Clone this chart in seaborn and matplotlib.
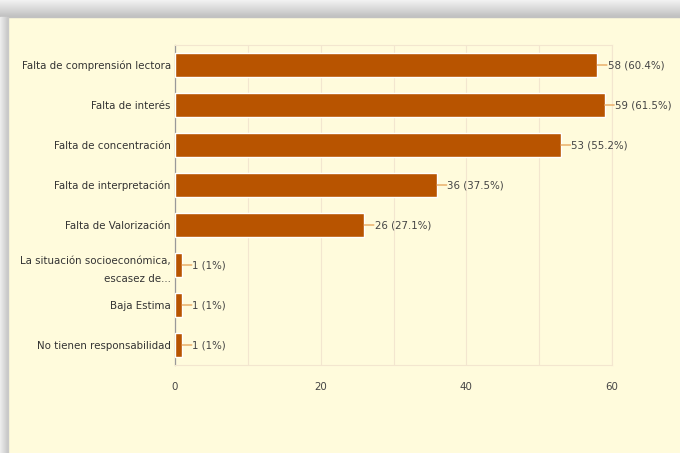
import matplotlib
matplotlib.use("Agg")
import matplotlib.pyplot as plt
from matplotlib.patches import Rectangle
from matplotlib import font_manager
import seaborn as sns
import pandas as pd

categories = [
    "Falta de comprensión lectora",
    "Falta de interés",
    "Falta de concentración",
    "Falta de interpretación",
    "Falta de Valorización",
    "La situación socioeconómica,\nescasez de...",
    "Baja Estima",
    "No tienen responsabilidad",
]
counts = [58, 59, 53, 36, 26, 1, 1, 1]
pct_labels = ["60.4%", "61.5%", "55.2%", "37.5%", "27.1%", "1%", "1%", "1%"]
x_ticks = [0, 20, 40, 60]

df = pd.DataFrame({"cat": categories, "n": counts})

sns.set_theme(style="white")

# look for a condensed regular face
cond = None
for f in font_manager.fontManager.ttflist:
    isc = ("Narrow" in f.name or "Condensed" in f.fname or "condensed" in str(f.stretch))
    reg = (f.weight in (400, "normal", "regular", "book")) and f.style == "normal" \
        and "Bold" not in f.fname and "Oblique" not in f.fname and "Italic" not in f.fname
    if isc and reg and ("DejaVu" in f.name or "Liberation" in f.name):
        cond = f
        break
if cond is not None:
    fp = font_manager.FontProperties(fname=cond.fname, size=8.2)
    fp_small = font_manager.FontProperties(fname=cond.fname, size=8.2)
else:
    fp = font_manager.FontProperties(family="Liberation Sans", size=7.6)
    fp_small = font_manager.FontProperties(family="Liberation Sans", size=7.6)
plt.rcParams["font.family"] = ["DejaVu Sans"]

cream = "#fffbdc"
fig = plt.figure(figsize=(6.8, 4.53), dpi=100)
fig.patch.set_facecolor(cream)

# screenshot frame: grey bands at top and left
for i in range(17):
    g = 0.95 - 0.012 * i
    fig.patches.append(Rectangle((0, 1 - (i + 1) / 453), 1, 1 / 453 + 0.0005,
                                 transform=fig.transFigure, color=(g, g, g), zorder=0))
for i in range(8):
    g = 0.93 - 0.02 * i
    fig.patches.append(Rectangle((i / 680, 0), 1 / 680 + 0.0005, 1 - 17 / 453,
                                 transform=fig.transFigure, color=(g, g, g), zorder=0))

ax = fig.add_axes([175 / 680, 1 - 365 / 453, (612 - 175) / 680, 320 / 453])
ax.set_facecolor(cream)

bar_color = "#b85400"
sns.barplot(data=df, x="n", y="cat", orient="h", color=bar_color, width=0.6,
            saturation=1, ax=ax, zorder=3)

ax.set_xlim(0, 60)
ax.set_ylim(7.5, -0.5)
ax.set_xticks(x_ticks)
ax.set_xticks([10, 30, 50], minor=True)
ax.grid(axis="x", which="both", color="#f3e6cf", linewidth=0.8, zorder=0)
ax.tick_params(axis="x", which="both", length=0, pad=12, labelcolor="#444444")
ax.tick_params(axis="y", length=0, pad=3, labelcolor="#333333")
ax.set_xlabel("")
ax.set_ylabel("")
for s in ["top", "right", "bottom"]:
    ax.spines[s].set_color("#f3e6cf")
    ax.spines[s].set_linewidth(0.8)
ax.spines["left"].set_color("#999999")
ax.spines["left"].set_linewidth(0.9)
for lbl in ax.get_yticklabels():
    lbl.set_fontproperties(fp)
    lbl.set_horizontalalignment("right")
    lbl.set_multialignment("right")
    if "\n" in lbl.get_text():
        lbl.set_linespacing(2.0)
for lbl in ax.get_xticklabels():
    lbl.set_fontproperties(fp)

for i, (n, p) in enumerate(zip(counts, pct_labels)):
    ax.annotate("", xy=(n, i), xytext=(n + 1.3, i), annotation_clip=False,
                arrowprops=dict(arrowstyle="-", color="#e8a860", lw=1.0, shrinkA=0, shrinkB=0))
    ax.text(n + 1.4, i, f"{n} ({p})", va="center", ha="left", fontproperties=fp_small,
            color="#444444", clip_on=False)

fig.savefig("out.png", dpi=100, facecolor=fig.get_facecolor())
